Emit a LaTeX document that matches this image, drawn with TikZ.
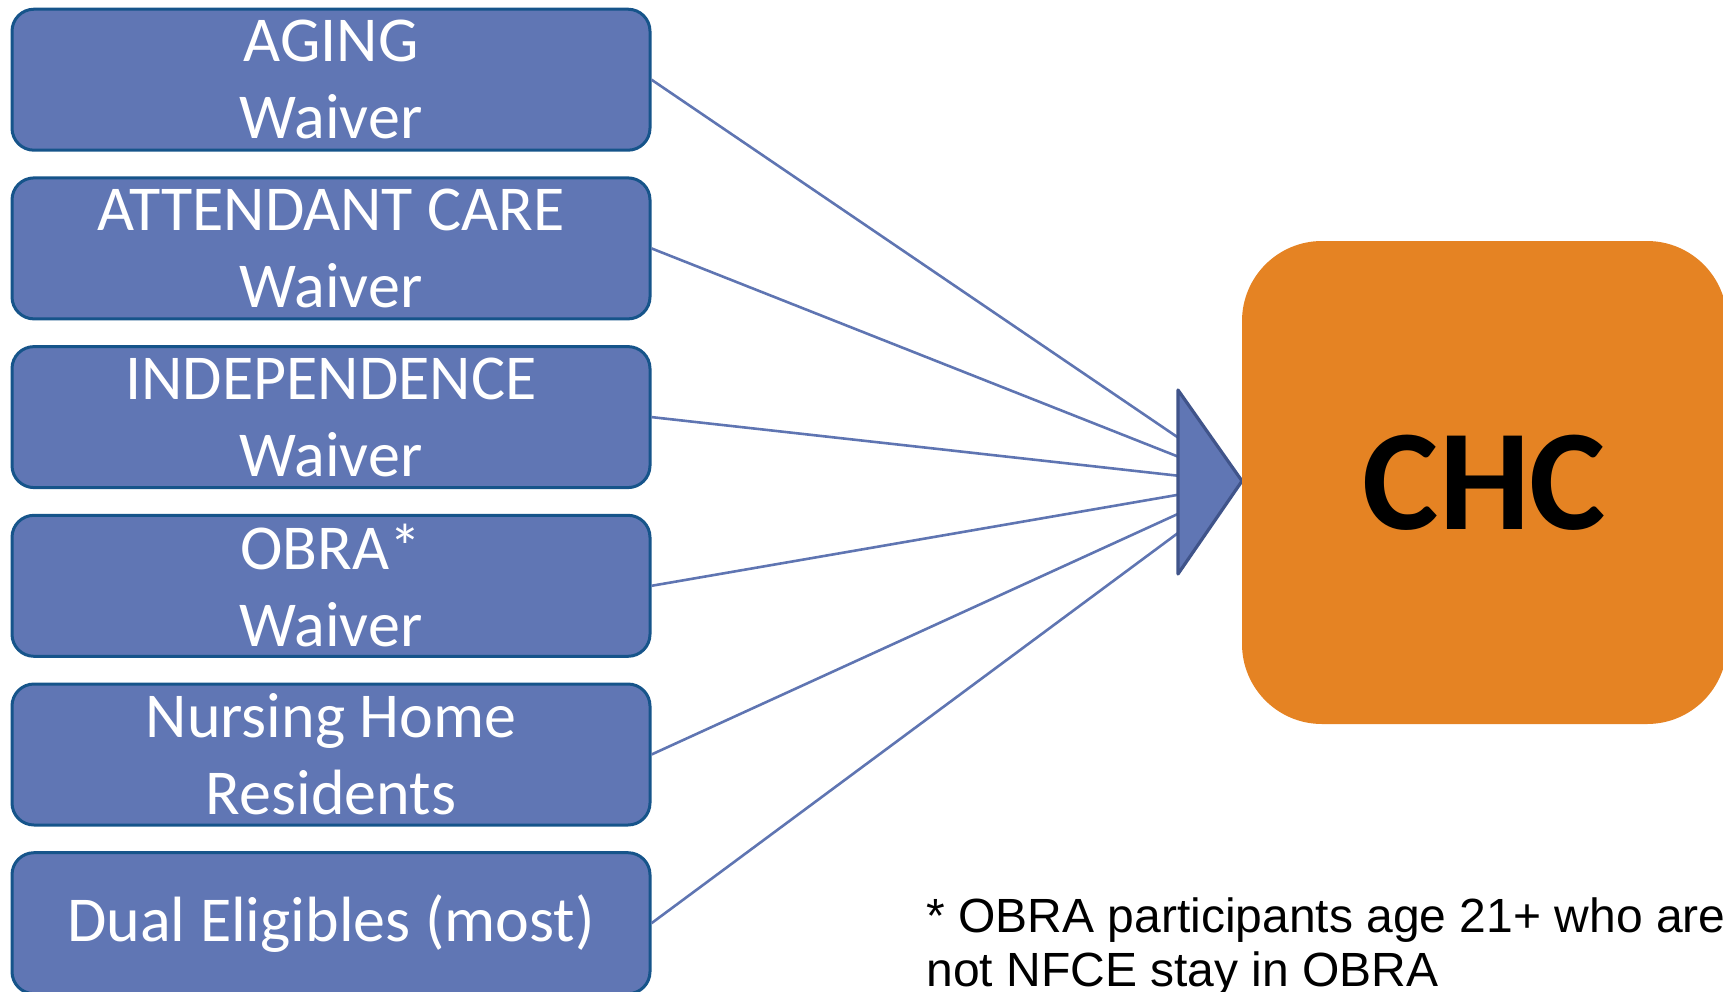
\documentclass[tikz,border=0pt]{standalone}
\usepackage{fontspec}
\setmainfont{Carlito}
\newfontfamily\notefont{Liberation Sans}
\definecolor{boxfill}{RGB}{96,118,180}
\definecolor{boxedge}{RGB}{22,84,138}
\definecolor{feedcol}{RGB}{95,117,178}
\definecolor{tipedge}{RGB}{64,84,138}
\definecolor{chcorange}{RGB}{229,131,35}
\begin{document}
\begin{tikzpicture}[x=0.5pt,y=-0.5pt,
  program/.style={draw=boxedge, fill=boxfill, line width=1.5pt, rounded corners=11pt,
    minimum width=319pt, minimum height=70.5pt, inner sep=0pt, align=center,
    text=white, font=\fontsize{32}{38.4}\selectfont},
  feed/.style={draw=feedcol, line width=1.3pt},
  funnel/.style={draw=tipedge, fill=boxfill, line width=1.6pt, line join=round},
  target/.style={fill=chcorange, rounded corners=40pt, minimum width=242.5pt,
    minimum height=241.5pt, inner sep=0pt, text=black,
    font=\fontsize{72}{86}\selectfont\bfseries},
  note/.style={anchor=north west, inner sep=0pt, align=left,
    font=\notefont\fontsize{24}{27}\selectfont}]
\useasboundingbox (0,0) rectangle (1723,991);

% program boxes on the left
\node[program] (aging)  at (331,79.7)  {AGING\\Waiver};
\node[program] (attend) at (331,248.4) {ATTENDANT CARE\\Waiver};
\node[program] (indep)  at (331,417.1) {INDEPENDENCE\\Waiver};
\node[program] (obra)   at (331,585.8) {OBRA*\\Waiver};
\node[program] (nurse)  at (331,754.5) {Nursing Home\\Residents};
\node[program] (dual)   at (331,923.2) {Dual Eligibles (most)};

% entry points on the flat side of the funnel arrow
\coordinate (in1) at (1178,437.5);
\coordinate (in2) at (1178,456.6);
\coordinate (in3) at (1178,475.7);
\coordinate (in4) at (1178,494.8);
\coordinate (in5) at (1178,513.9);
\coordinate (in6) at (1178,533.0);

\draw[feed] (aging.east)  -- (in1);
\draw[feed] (attend.east) -- (in2);
\draw[feed] (indep.east)  -- (in3);
\draw[feed] (obra.east)   -- (in4);
\draw[feed] (nurse.east)  -- (in5);
\draw[feed] (dual.east)   -- (in6);

% funnel arrow head
\coordinate (tipTop) at (1178,390);
\coordinate (tipEnd) at (1242,481);
\coordinate (tipBot) at (1178,574);
\draw[funnel] (tipTop) -- (tipEnd) -- (tipBot) -- cycle;

% destination
\node[target] (chc) at (1484.5,482.5) {CHC};

% footnote
\node[note] (fn) at (926,897) {* OBRA participants age 21+ who are\\not NFCE stay in OBRA};
\end{tikzpicture}
\end{document}
